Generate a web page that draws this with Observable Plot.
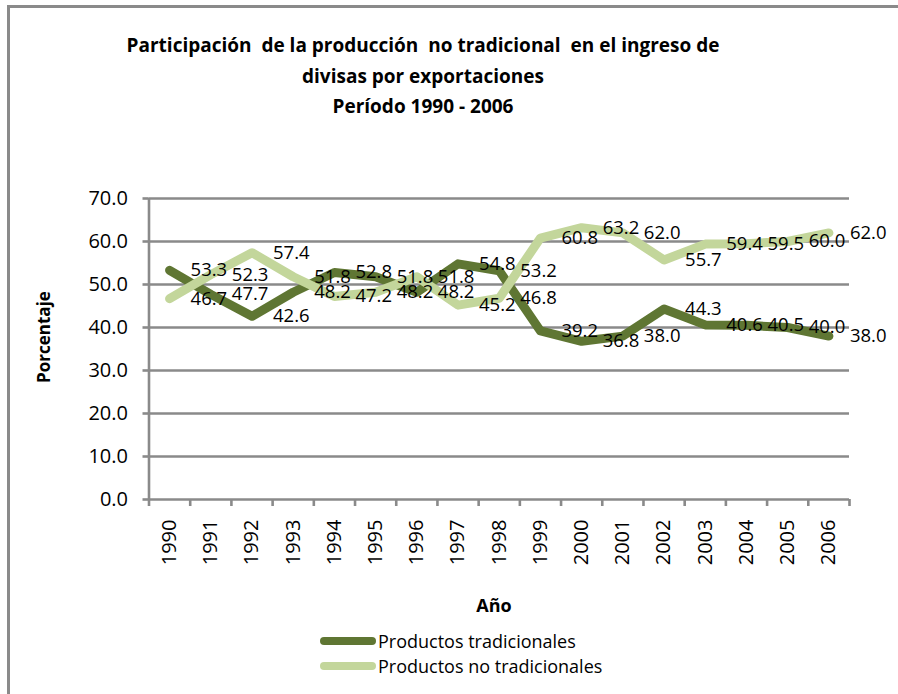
<!DOCTYPE html>
<html>
<head>
<meta charset="utf-8">
<script src="https://cdn.jsdelivr.net/npm/d3@7"></script>
<script src="https://cdn.jsdelivr.net/npm/@observablehq/plot@0.6"></script>
<style>
  html, body { margin: 0; padding: 0; background: #fff; }
  #wrap { position: relative; width: 898px; height: 694px; overflow: hidden; background: #fff; font-family: "Open Sans", sans-serif; }
  #frameTop { position: absolute; left: 7px; top: 5px; width: 900px; height: 2.5px; background: #8a8a8a; }
  #frameLeft { position: absolute; left: 7px; top: 5px; width: 2.5px; height: 700px; background: #8a8a8a; }
  #title { position: absolute; left: 0; top: 30px; width: 846px; text-align: center; font-family: "Open Sans", sans-serif; font-weight: bold; font-size: 19px; line-height: 30.5px; color: #000; }
  #chart { position: absolute; left: 0; top: 0; }
  #ylab { position: absolute; left: 43px; top: 337px; transform: translate(-50%, -50%) rotate(-90deg); font-weight: bold; font-size: 17px; white-space: nowrap; }
  #xlab { position: absolute; left: 494px; top: 605px; transform: translate(-50%, -50%); font-weight: bold; font-size: 18px; }
  .leg { position: absolute; left: 320px; display: flex; align-items: center; font-size: 18px; white-space: nowrap; }
  .sw { width: 56px; height: 8px; border-radius: 4px; margin-right: 2px; }
</style>
</head>
<body>
<div id="wrap">
  <div id="frameTop"></div>
  <div id="frameLeft"></div>
  <div id="chart"></div>
  <div id="title"></div>
  <div id="ylab"></div>
  <div id="xlab"></div>
  <div id="legend"></div>
</div>
<script>
const titleLines = [
  "Participación  de la producción  no tradicional  en el ingreso de",
  "divisas por exportaciones",
  "Período 1990 - 2006"
];
const yAxisTitle = "Porcentaje";
const xAxisTitle = "Año";
const seriesNames = ["Productos tradicionales", "Productos no tradicionales"];
const seriesColors = ["#5f7633", "#c3d69b"];
const years = [1990, 1991, 1992, 1993, 1994, 1995, 1996, 1997, 1998, 1999, 2000, 2001, 2002, 2003, 2004, 2005, 2006];
const tradicionales = [53.3, 47.7, 42.6, 48.2, 52.8, 51.8, 48.2, 54.8, 53.2, 39.2, 36.8, 38.0, 44.3, 40.6, 40.5, 40.0, 38.0];
const noTradicionales = [46.7, 52.3, 57.4, 51.8, 47.2, 48.2, 51.8, 45.2, 46.8, 60.8, 63.2, 62.0, 55.7, 59.4, 59.5, 60.0, 62.0];
const yTicks = [0, 10, 20, 30, 40, 50, 60, 70];

const gray = "#8a8a8a";
const data = [];
years.forEach((yr, i) => {
  data.push({ year: yr, value: tradicionales[i], serie: seriesNames[0] });
  data.push({ year: yr, value: noTradicionales[i], serie: seriesNames[1] });
});
const xMin = years[0] - 0.5;
const xMax = years[years.length - 1] + 0.5;
const boundaries = years.map(y => y - 0.5).concat([xMax]);

const chart = Plot.plot({
  width: 898,
  height: 640,
  marginLeft: 148.5,
  marginRight: 49,
  marginTop: 198,
  marginBottom: 141,
  style: { fontFamily: "'Open Sans', sans-serif", color: "#000", background: "transparent" },
  x: { domain: [xMin, xMax], axis: null },
  y: { domain: [0, 70], axis: null },
  color: { domain: seriesNames, range: seriesColors },
  marks: [
    Plot.ruleY(yTicks, { stroke: gray, strokeWidth: 2.6 }),
    Plot.ruleX([xMin], { stroke: gray, strokeWidth: 2.6 }),
    Plot.axisY({ ticks: yTicks, tickFormat: d => d.toFixed(1), tickSize: 6, tickPadding: 15, stroke: gray, strokeWidth: 2.6, fontSize: 20, fill: "#000", label: null }),
    Plot.axisX({ ticks: boundaries, tickFormat: () => "", tickSize: 7, stroke: gray, strokeWidth: 2.6, label: null }),
    Plot.axisX({ ticks: years, tickFormat: d => String(d), tickSize: 0, tickPadding: 20, tickRotate: -90, fontSize: 20, fill: "#000", label: null }),
    Plot.line(data.filter(d => d.serie === seriesNames[0]), { x: "year", y: "value", stroke: seriesColors[0], strokeWidth: 9, strokeLinecap: "round", strokeLinejoin: "round" }),
    Plot.line(data.filter(d => d.serie === seriesNames[1]), { x: "year", y: "value", stroke: seriesColors[1], strokeWidth: 9, strokeLinecap: "round", strokeLinejoin: "round" }),
    Plot.text(data, { x: "year", y: "value", text: d => d.value.toFixed(1), dx: 21, textAnchor: "start", fontSize: 18.5, fill: "#000" })
  ]
});
document.getElementById("chart").appendChild(chart);

document.getElementById("title").innerHTML = titleLines.map(t => `<div style="white-space:pre">${t}</div>`).join("");
document.getElementById("ylab").textContent = yAxisTitle;
document.getElementById("xlab").textContent = xAxisTitle;
const legend = document.getElementById("legend");
seriesNames.forEach((name, i) => {
  const row = document.createElement("div");
  row.className = "leg";
  row.style.top = (629 + i * 25) + "px";
  row.innerHTML = `<div class="sw" style="background:${seriesColors[i]}"></div><span>${name}</span>`;
  legend.appendChild(row);
});
</script>
</body>
</html>
